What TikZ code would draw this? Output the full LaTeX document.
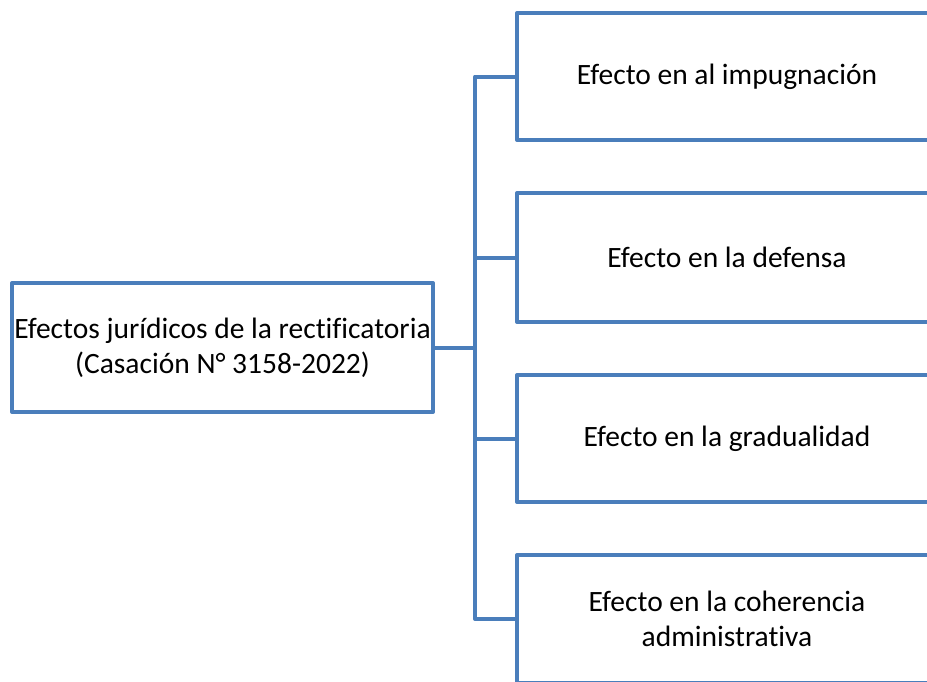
\documentclass[tikz,border=0pt]{standalone}
\usepackage{fontspec}
\setmainfont{Carlito}[Ligatures=NoCommon]
\definecolor{obl}{HTML}{4A7EBB}
\begin{document}
\begin{tikzpicture}[x=1pt,y=-1pt,
  box/.style={draw=obl,line width=4pt,line join=round,fill=white,inner sep=0pt,
    align=center,font=\fontsize{29.5}{35}\selectfont},
  conn/.style={draw=obl,line width=4pt,line join=round}]
\useasboundingbox (0,0) rectangle (927,681);
\clip (0,0) rectangle (927,681);
\node[box,minimum width=421pt,minimum height=129pt] (root) at (222.5,347.5)
  {Efectos jurídicos de la rectificatoria\\(Casación N° 3158-2022)};
\node[box,minimum width=420pt,minimum height=127pt] (a) at (727,76.5) {Efecto en al impugnación};
\node[box,minimum width=420pt,minimum height=129pt] (b) at (727,257.5) {Efecto en la defensa};
\node[box,minimum width=420pt,minimum height=127pt] (c) at (727,438.5) {Efecto en la gradualidad};
\node[box,minimum width=420pt,minimum height=128pt] (d) at (727,619) {Efecto en la coherencia\\administrativa};
\coordinate (v) at (475,0);
\draw[conn] (root.east) -- (root.east -| v);
\draw[conn] (a.west) -- (a.west -| v) -- (d.west -| v) -- (d.west);
\draw[conn] (b.west) -- (b.west -| v);
\draw[conn] (c.west) -- (c.west -| v);
\end{tikzpicture}
\end{document}
